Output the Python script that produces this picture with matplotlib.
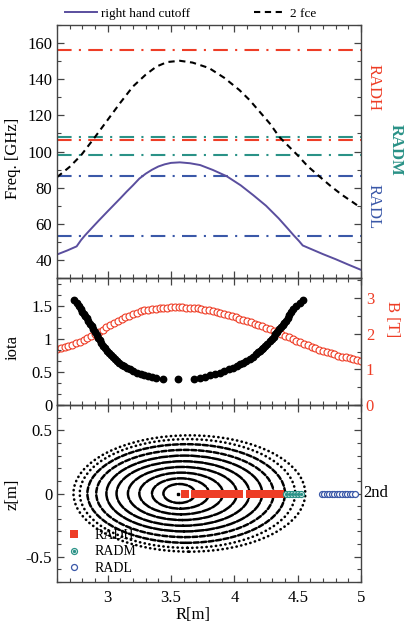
import matplotlib
matplotlib.use("Agg")
import matplotlib.pyplot as plt
from matplotlib.patches import Ellipse
from matplotlib.ticker import MultipleLocator, FormatStrFormatter
from matplotlib.lines import Line2D

plt.rcParams["font.family"] = ["Liberation Serif", "DejaVu Serif"]
plt.rcParams["axes.unicode_minus"] = False

# --- top panel: frequencies vs R ---
r_cut = [2.60, 2.68, 2.755, 2.79, 2.82, 2.87, 2.93, 3.00, 3.05, 3.10, 3.15, 3.20,
         3.25, 3.30, 3.35, 3.40, 3.45, 3.50, 3.57, 3.65, 3.73, 3.83, 3.94, 4.05,
         4.15, 4.25, 4.35, 4.42, 4.47, 4.51, 4.54, 4.60, 4.70, 4.80, 4.90, 5.00]
f_cut = [43.0, 45.2, 47.5, 51.0, 53.5, 57.3, 61.8, 66.9, 70.5, 74.1, 77.8, 81.3,
         85.0, 87.7, 89.9, 91.7, 92.9, 93.7, 94.0, 93.5, 92.5, 89.8, 86.3, 81.3,
         75.8, 70.0, 63.0, 57.5, 53.5, 50.5, 48.0, 46.2, 43.2, 40.4, 37.4, 34.5]

r_fce = [2.60, 2.70, 2.79, 2.90, 3.00, 3.10, 3.20, 3.30, 3.385, 3.47, 3.57, 3.67,
         3.80, 3.92, 4.04, 4.12, 4.20, 4.28, 4.356, 4.43, 4.50, 4.58, 4.67, 4.76,
         4.85, 4.93, 5.00]
f_fce = [85.8, 91.5, 97.9, 108.0, 117.5, 127.0, 136.0, 142.5, 147.0, 149.5, 150.2,
         149.2, 146.2, 140.8, 134.0, 128.5, 122.0, 115.5, 108.0, 102.8, 97.9, 91.8,
         86.3, 80.9, 76.0, 72.2, 68.8]

radh_freq = [156.3, 106.4]
radm_freq = [108.0, 97.9]
radl_freq = [86.3, 53.5]

# --- middle panel: iota and B ---
r_iota = [2.736, 2.756, 2.776, 2.79, 2.80, 2.81, 2.82, 2.833, 2.847, 2.86, 2.873,
          2.886, 2.899, 2.912, 2.925, 2.938, 2.951, 2.965, 2.98, 2.995, 3.01, 3.025,
          3.04, 3.055, 3.07, 3.09, 3.11, 3.13, 3.15, 3.175, 3.20, 3.23, 3.26, 3.29,
          3.32, 3.35, 3.385, 3.437,
          3.555,
          3.681, 3.726, 3.766, 3.806, 3.845, 3.885, 3.92, 3.955, 3.99, 4.02, 4.045,
          4.07, 4.095, 4.12, 4.145, 4.17, 4.185, 4.20, 4.215, 4.23, 4.245, 4.26, 4.28,
          4.295, 4.31, 4.325, 4.34, 4.356, 4.37, 4.383, 4.396, 4.409, 4.422, 4.435,
          4.448, 4.467, 4.487, 4.515, 4.545]
iota = [1.586, 1.54, 1.50, 1.45, 1.41, 1.38, 1.35, 1.31, 1.27, 1.23, 1.19, 1.147,
        1.105, 1.06, 1.02, 0.98, 0.937, 0.894, 0.855, 0.818, 0.783, 0.752, 0.723,
        0.695, 0.667, 0.638, 0.612, 0.587, 0.564, 0.539, 0.515, 0.489, 0.467, 0.448,
        0.432, 0.421, 0.412, 0.40,
        0.39,
        0.40, 0.41, 0.428, 0.447, 0.468, 0.49, 0.514, 0.54, 0.566, 0.593, 0.617,
        0.642, 0.667, 0.699, 0.732, 0.771, 0.795, 0.818, 0.84, 0.864, 0.89, 0.92,
        0.97, 1.00, 1.035, 1.07, 1.105, 1.147, 1.18, 1.21, 1.24, 1.27, 1.31, 1.355,
        1.40, 1.45, 1.50, 1.545, 1.586]

r_b = [2.60, 2.63, 2.66, 2.69, 2.72, 2.75, 2.78, 2.81, 2.84, 2.87, 2.90, 2.93, 2.96,
       2.99, 3.02, 3.05, 3.08, 3.11, 3.14, 3.17, 3.20, 3.23, 3.26, 3.29, 3.32, 3.35,
       3.38, 3.41, 3.44, 3.47, 3.50, 3.53, 3.56, 3.59, 3.62, 3.65, 3.68, 3.71, 3.74,
       3.77, 3.80, 3.83, 3.86, 3.89, 3.92, 3.95, 3.98, 4.01, 4.04, 4.07, 4.10, 4.13,
       4.16, 4.19, 4.22, 4.25, 4.28, 4.31, 4.34, 4.37, 4.40, 4.43, 4.46, 4.49, 4.52,
       4.55, 4.58, 4.61, 4.64, 4.67, 4.70, 4.73, 4.76, 4.79, 4.82, 4.85, 4.88, 4.91,
       4.94, 4.97, 5.00]
b_field = [1.57, 1.60, 1.63, 1.66, 1.69, 1.73, 1.77, 1.82, 1.87, 1.93, 1.99, 2.05,
           2.12, 2.18, 2.24, 2.30, 2.35, 2.41, 2.46, 2.51, 2.56, 2.60, 2.63, 2.66,
           2.68, 2.70, 2.71, 2.72, 2.73, 2.74, 2.75, 2.75, 2.75, 2.75, 2.74, 2.74,
           2.73, 2.72, 2.70, 2.68, 2.66, 2.63, 2.61, 2.58, 2.55, 2.52, 2.49, 2.46,
           2.43, 2.39, 2.36, 2.32, 2.29, 2.25, 2.21, 2.17, 2.13, 2.09, 2.04, 2.00,
           1.95, 1.90, 1.86, 1.81, 1.77, 1.72, 1.68, 1.64, 1.60, 1.56, 1.52, 1.49,
           1.45, 1.42, 1.39, 1.36, 1.34, 1.31, 1.29, 1.26, 1.24]

# --- bottom panel: flux surfaces and channel positions ---
ring_left = [3.44, 3.35, 3.25, 3.16, 3.07, 2.99, 2.91, 2.84, 2.78, 2.73]
ring_right = [3.69, 3.80, 3.91, 4.02, 4.12, 4.22, 4.31, 4.40, 4.48, 4.56]
ring_halfh = [0.075, 0.12, 0.165, 0.21, 0.255, 0.30, 0.345, 0.39, 0.43, 0.46]
axis_r = 3.555

radh_r = [3.61, 3.69, 3.715, 3.74, 3.765, 3.79, 3.815, 3.84, 3.865, 3.89, 3.915,
          3.94, 3.965, 3.99, 4.015, 4.04, 4.12, 4.15, 4.18, 4.21, 4.24, 4.27, 4.30,
          4.33, 4.36]
radm_r = [4.405, 4.43, 4.455, 4.48, 4.505, 4.53]
radl_r = [4.69, 4.71, 4.73, 4.75, 4.77, 4.79, 4.81, 4.83, 4.85, 4.87, 4.89, 4.91,
          4.93, 4.95]

RED = "#ee3d26"
TEAL = "#2a9287"
BLUE = "#3a58a8"
PURPLE = "#5a4e9e"
SPINE = "#444444"

W, H = 406, 626
fig = plt.figure(figsize=(W / 100, H / 100), dpi=100)

left = 57 / W
width = (361 - 57) / W


def box(top, bottom):
    return [left, 1 - bottom / H, width, (bottom - top) / H]


ax1 = fig.add_axes(box(25, 278))
ax2 = fig.add_axes(box(278, 405))
ax3 = fig.add_axes(box(405, 582))


def style(ax, right=True):
    for s in ax.spines.values():
        s.set_color(SPINE)
        s.set_linewidth(1.0)
    ax.tick_params(which="both", direction="in", top=True, right=right,
                   color=SPINE, labelsize=12)
    ax.tick_params(which="major", length=5, width=0.9)
    ax.tick_params(which="minor", length=3, width=0.8)
    ax.set_xlim(2.6, 5.0)
    ax.xaxis.set_major_locator(MultipleLocator(0.5))
    ax.xaxis.set_minor_locator(MultipleLocator(0.1))
    ax.xaxis.set_major_formatter(FormatStrFormatter("%g"))
    ax.yaxis.set_major_formatter(FormatStrFormatter("%g"))


# top panel
style(ax1)
dashdot = (0, (7, 3.5, 1, 3.5))
for f in radh_freq:
    ax1.axhline(f, color=RED, lw=1.5, ls=dashdot)
for f in radm_freq:
    ax1.axhline(f, color=TEAL, lw=1.5, ls=dashdot)
for f in radl_freq:
    ax1.axhline(f, color=BLUE, lw=1.5, ls=dashdot)
l_cut, = ax1.plot(r_cut, f_cut, color=PURPLE, lw=1.4)
l_fce, = ax1.plot(r_fce, f_fce, color="black", lw=1.5, ls=(0, (3, 2.2)))
ax1.set_ylim(30, 170)
ax1.yaxis.set_major_locator(MultipleLocator(20))
ax1.yaxis.set_minor_locator(MultipleLocator(10))
ax1.tick_params(labelbottom=False)
fig.legend([l_cut, l_fce], ["right hand cutoff", "2 fce"], loc="center left",
           bbox_to_anchor=(65 / W, 1 - 14 / H), ncol=2, frameon=False,
           fontsize=9.5, handlelength=2.4, handletextpad=0.3, columnspacing=4.9,
           borderpad=0, borderaxespad=0)

fig.text(13 / W, 1 - 158 / H, "Freq. [GHz]", rotation=90, ha="center",
         va="center", fontsize=12)
fig.text(374 / W, 1 - 88 / H, "RADH", rotation=270, ha="center", va="center",
         fontsize=12, color=RED)
fig.text(396 / W, 1 - 150 / H, "RADM", rotation=270, ha="center", va="center",
         fontsize=12, color=TEAL, fontweight="bold")
fig.text(374 / W, 1 - 207 / H, "RADL", rotation=270, ha="center", va="center",
         fontsize=12, color=BLUE)

# middle panel
style(ax2, right=False)
ax2.plot(r_iota, iota, "o", color="black", ms=4.6, zorder=3)
ax2.set_ylim(0, 1.92)
ax2.yaxis.set_major_locator(MultipleLocator(0.5))
ax2.yaxis.set_minor_locator(MultipleLocator(0.5 / 3))
ax2.tick_params(labelbottom=False)
ax2b = ax2.twinx()
ax2b.plot(r_b, b_field, "o", mfc="white", mec=RED, mew=0.8, ms=5.0, zorder=2)
ax2b.set_ylim(0, 3.57)
ax2b.yaxis.set_major_locator(MultipleLocator(1))
ax2b.yaxis.set_minor_locator(MultipleLocator(0.5))
ax2b.tick_params(which="both", direction="in", color=SPINE, labelsize=12,
                 labelcolor=RED)
ax2b.tick_params(which="major", length=5, width=0.9)
ax2b.tick_params(which="minor", length=3, width=0.8)
for s in ax2b.spines.values():
    s.set_color(SPINE)
ax2.set_zorder(ax2b.get_zorder() + 1)
ax2.patch.set_visible(False)

fig.text(13 / W, 1 - 347 / H, "iota", rotation=90, ha="center", va="center",
         fontsize=12)
fig.text(392 / W, 1 - 319 / H, "B [T]", rotation=270, ha="center", va="center",
         fontsize=12, color=RED)

# bottom panel
style(ax3)
ax3.tick_params(axis="x", pad=6)
ax3.set_ylim(-0.7, 0.7)
ax3.yaxis.set_major_locator(MultipleLocator(0.5))
ax3.yaxis.set_minor_locator(MultipleLocator(0.1))
for i, (rl, rr, hh) in enumerate(zip(ring_left, ring_right, ring_halfh)):
    if i >= len(ring_left) - 2:
        ls, lw = (0, (0.1, 1.7)), 1.9
    elif i >= len(ring_left) - 4:
        ls, lw = (0, (2.0, 1.0)), 1.8
    else:
        ls, lw = (0, (3.5, 0.8)), 1.8
    ax3.add_patch(Ellipse(((rl + rr) / 2, 0), rr - rl, 2 * hh, fill=False,
                          ec="black", lw=lw, ls=ls, capstyle="round", zorder=2))
ax3.plot([axis_r], [0], "s", color="black", ms=1.8, zorder=3)
ax3.plot(radh_r, [0] * len(radh_r), "s", color=RED, ms=6, mew=0, zorder=4)
ax3.plot(radm_r, [0] * len(radm_r), "o", mfc="white", mec=TEAL, mew=0.9, ms=4.3,
         zorder=5)
ax3.plot(radm_r, [0] * len(radm_r), "o", color=TEAL, ms=1.4, zorder=6)
ax3.plot(radl_r, [0] * len(radl_r), "o", mfc="white", mec=BLUE, mew=0.9, ms=4.3,
         zorder=5)

h_radh = Line2D([], [], ls="none", marker="s", color=RED, ms=6, mew=0)
h_radm1 = Line2D([], [], ls="none", marker="o", mfc="white", mec=TEAL, mew=0.9,
                 ms=4.3)
h_radm2 = Line2D([], [], ls="none", marker="o", color=TEAL, ms=1.4)
h_radl = Line2D([], [], ls="none", marker="o", mfc="white", mec=BLUE, mew=0.9,
                ms=4.3)
leg = ax3.legend([h_radh, (h_radm1, h_radm2), h_radl], ["RADH", "RADM", "RADL"],
                 loc="upper left", bbox_to_anchor=(67 / W, 1 - 529 / H),
                 bbox_transform=fig.transFigure, frameon=False, fontsize=10,
                 handlelength=1.0, handletextpad=1.0, labelspacing=0.25,
                 borderpad=0, borderaxespad=0)
leg.set_zorder(1)

fig.text(13 / W, 1 - 494 / H, "z[m]", rotation=90, ha="center", va="center",
         fontsize=12)
fig.text(193 / W, 1 - 615 / H, "R[m]", ha="center", va="center", fontsize=12)
fig.text(363 / W, 1 - 493 / H, "2nd", ha="left", va="center", fontsize=12)

fig.savefig("out.png", dpi=100)
